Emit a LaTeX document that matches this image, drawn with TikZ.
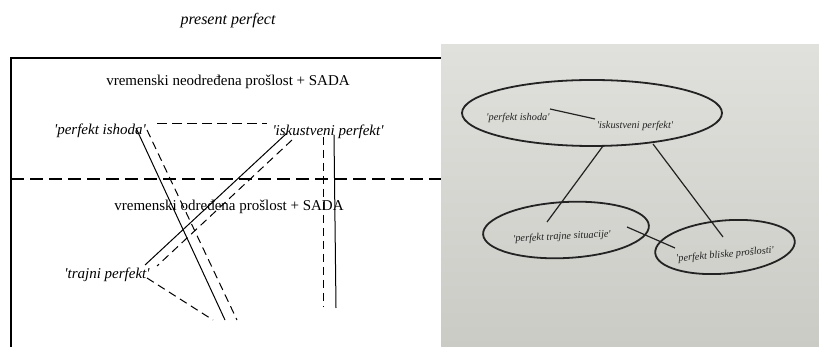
\documentclass[tikz,border=0pt]{standalone}
\usepackage{fontspec}
\setmainfont{Liberation Serif}
\usetikzlibrary{shapes.geometric}
\definecolor{paper}{RGB}{224,224,220}
\definecolor{paperdark}{RGB}{203,203,198}
\definecolor{ink}{RGB}{35,35,35}
\newcommand{\sq}{\textquotesingle}
\tikzset{
  frameline/.style={line width=1.3pt, black},
  solidlink/.style={line width=1pt, black},
  dashlink/.style={line width=1pt, black, dash pattern=on 8pt off 5pt},
  longdash/.style={line width=1.3pt, black, dash pattern=on 13pt off 6pt},
  shortdash/.style={line width=1pt, black, dash pattern=on 10pt off 5pt},
  plaintext/.style={font=\fontsize{15}{17}\selectfont, inner sep=0pt},
  itallabel/.style={font=\fontsize{15}{17}\selectfont\itshape, inner sep=0pt},
  setbox/.style={ellipse, draw=ink, line width=1.8pt, inner sep=0pt},
  setlabel/.style={font=\fontsize{10.3}{12}\selectfont\itshape, text=ink, inner sep=0pt},
  setlink/.style={line width=1.2pt, ink}
}
\begin{document}
\begin{tikzpicture}[x=1pt, y=-1pt]
\useasboundingbox (0,0) rectangle (819,347);
\fill[white] (0,0) rectangle (819,347);

% ---------- left panel: present perfect ----------
\node[font=\fontsize{16}{18}\selectfont\itshape, inner sep=0pt] (title) at (228,21) {present perfect};

\coordinate (ftl) at (11,58);
\coordinate (fbl) at (11,347);
\coordinate (ftr) at (441,58);
\draw[frameline] (fbl) -- (ftl) -- (ftr);

\coordinate (mdl) at (11,179);
\coordinate (mdr) at (441,179);
\draw[longdash] (mdl) -- (mdr);

\node[plaintext] (upper) at (228,82) {vremenski neodređena prošlost + SADA};
\node[plaintext] (lower) at (229,207) {vremenski određena prošlost + SADA};

\node[itallabel] (ishoda) at (100,131) {\sq perfekt ishoda\sq};
\node[itallabel] (iskustveni) at (328,132) {\sq iskustveni perfekt\sq};
\node[itallabel] (trajni) at (107,275) {\sq trajni perfekt\sq};

% ishoda: solid and dashed strokes down to the right
\coordinate (a1) at (136,128);  \coordinate (a2) at (225,320);
\coordinate (b1) at (147,130);  \coordinate (b2) at (237,320);
\draw[solidlink] (a1) -- (a2);
\draw[dashlink] (b1) -- (b2);

% iskustveni to trajni: solid and dashed strokes
\coordinate (c1) at (287,133);  \coordinate (c2) at (145,265);
\coordinate (d1) at (292,140);  \coordinate (d2) at (157,266);
\draw[solidlink] (c1) -- (c2);
\draw[dashlink] (d1) -- (d2);

% trajni: dashed stroke down to the right
\coordinate (e1) at (147,278);  \coordinate (e2) at (213,320);
\draw[dashlink] (e1) -- (e2);

% short dashed bar between the two upper labels
\coordinate (h1) at (157,124);  \coordinate (h2) at (267,124);
\draw[shortdash] (h1) -- (h2);

% iskustveni: vertical dashed and solid strokes
\coordinate (v1) at (323,137);  \coordinate (v2) at (323,307);
\coordinate (w1) at (334,135);  \coordinate (w2) at (336,308);
\draw[dashlink] (v1) -- (v2);
\draw[solidlink] (w1) -- (w2);

% ---------- right panel: photographed sketch ----------
\shade[top color=paper, bottom color=paperdark] (441,45) rectangle (819,347);

\node[setbox, minimum width=260pt, minimum height=66pt] (top) at (592,113) {};
\node[setlabel] (pishoda) at (518,118) {\sq perfekt ishoda\sq};
\node[setlabel] (piskustveni) at (635,126) {\sq iskustveni perfekt\sq};
\coordinate (t1) at (550,109);  \coordinate (t2) at (595,119);
\draw[setlink] (t1) -- (t2);

\node[setbox, minimum width=166pt, minimum height=56pt, rotate=3] (left) at (566,230) {};
\node[setlabel, rotate=3] (ptrajne) at (562,237) {\sq perfekt trajne situacije\sq};

\node[setbox, minimum width=140pt, minimum height=53pt, rotate=5] (right) at (725,247) {};
\node[setlabel, rotate=5] (pbliske) at (725,255) {\sq perfekt bliske prošlosti\sq};

\coordinate (l1) at (603,146);  \coordinate (l2) at (547,222);
\coordinate (r1) at (653,144);  \coordinate (r2) at (723,237);
\coordinate (m1) at (627,227);  \coordinate (m2) at (675,248);
\draw[setlink] (l1) -- (l2);
\draw[setlink] (r1) -- (r2);
\draw[setlink] (m1) -- (m2);
\end{tikzpicture}
\end{document}
